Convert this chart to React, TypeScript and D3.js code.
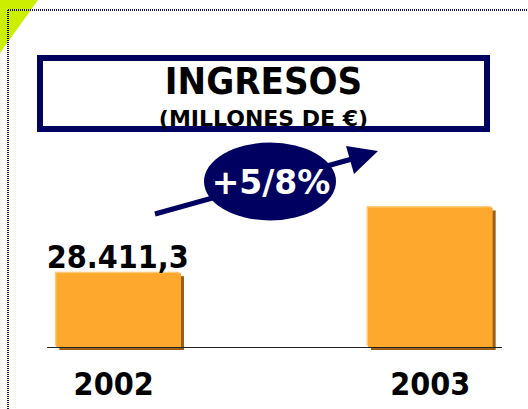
import React, { useEffect, useRef } from 'react';
import * as d3 from 'd3';

// data
const years = ['2002', '2003'];
const revenue = [28411.3, 30059.0];
const valueLabels = ['28.411,3', ''];
const growthLabel = '+5/8%';
const title = 'INGRESOS';
const subtitle = '(MILLONES DE €)';

const WIDTH = 528;
const HEIGHT = 409;
const FONT = "'DejaVu Sans Condensed', 'DejaVu Sans', Verdana, sans-serif";
const FONT_WIDE = "'DejaVu Sans', Verdana, sans-serif";

const App = () => {
  const svgRef = useRef<SVGSVGElement>(null);

  useEffect(() => {
    const svg = d3.select(svgRef.current);
    svg.selectAll('*').remove();

    const baseY = 347;

    const xScale = d3.scaleBand()
      .domain(years)
      .range([47, 502])
      .paddingInner(0.6)
      .paddingOuter(0.03);

    // axis doesn't start at zero in the original slide
    const yScale = d3.scaleLinear()
      .domain([26560, 30059])
      .range([baseY, 207.5]);

    // corner decoration
    svg.append('polygon')
      .attr('points', '0,0 38,0 0,53')
      .attr('fill', '#ccee00');

    // dotted frame
    svg.append('line')
      .attr('x1', 8).attr('y1', 10).attr('x2', WIDTH).attr('y2', 10)
      .attr('stroke', '#101070').attr('stroke-width', 2)
      .attr('stroke-dasharray', '1,1');
    svg.append('line')
      .attr('x1', 8).attr('y1', 10).attr('x2', 8).attr('y2', HEIGHT)
      .attr('stroke', '#101070').attr('stroke-width', 2)
      .attr('stroke-dasharray', '1,1');

    // title box
    svg.append('rect')
      .attr('x', 40).attr('y', 58)
      .attr('width', 447).attr('height', 71)
      .attr('fill', 'white')
      .attr('stroke', '#000060')
      .attr('stroke-width', 6);

    svg.append('text')
      .attr('x', 263.5).attr('y', 94)
      .attr('text-anchor', 'middle')
      .style('font-family', FONT)
      .style('font-weight', 'bold')
      .style('font-size', '38px')
      .style('fill', '#000')
      .text(title);

    svg.append('text')
      .attr('x', 263.5).attr('y', 126)
      .attr('text-anchor', 'middle')
      .style('font-family', FONT_WIDE)
      .style('font-weight', 'bold')
      .style('font-size', '22px')
      .style('fill', '#000')
      .text(subtitle);

    // bars: shadow, highlight, body
    const bars = svg.append('g');
    bars.selectAll('.shadow')
      .data(revenue)
      .enter().append('rect')
      .attr('class', 'shadow')
      .attr('x', (d, i) => xScale(years[i])! + 3)
      .attr('y', d => yScale(d) + 3)
      .attr('width', xScale.bandwidth())
      .attr('height', d => baseY - yScale(d))
      .attr('fill', '#9c5f14');

    bars.selectAll('.hl')
      .data(revenue)
      .enter().append('rect')
      .attr('class', 'hl')
      .attr('x', (d, i) => xScale(years[i])! - 1.5)
      .attr('y', d => yScale(d) - 1.5)
      .attr('width', xScale.bandwidth())
      .attr('height', d => baseY - yScale(d))
      .attr('fill', '#ffcb7a');

    bars.selectAll('.bar')
      .data(revenue)
      .enter().append('rect')
      .attr('class', 'bar')
      .attr('x', (d, i) => xScale(years[i])!)
      .attr('y', d => yScale(d))
      .attr('width', xScale.bandwidth())
      .attr('height', d => baseY - yScale(d))
      .attr('fill', '#ffa82e');

    // baseline
    svg.append('line')
      .attr('x1', 47).attr('x2', 502)
      .attr('y1', baseY + 0.5).attr('y2', baseY + 0.5)
      .attr('stroke', '#222').attr('stroke-width', 1);

    // value labels
    svg.selectAll('.value-label')
      .data(revenue)
      .enter().append('text')
      .attr('class', 'value-label')
      .attr('x', (d, i) => xScale(years[i])! + xScale.bandwidth() / 2 - 1)
      .attr('y', d => yScale(d) - 5)
      .attr('text-anchor', 'middle')
      .style('font-family', FONT)
      .style('font-weight', 'bold')
      .style('font-size', '32px')
      .style('fill', '#000')
      .text((d, i) => valueLabels[i]);

    // category labels
    svg.selectAll('.year-label')
      .data(years)
      .enter().append('text')
      .attr('class', 'year-label')
      .attr('x', (d, i) => xScale(d)! + xScale.bandwidth() / 2 - (i === 0 ? 5 : 0))
      .attr('y', 395)
      .attr('text-anchor', 'middle')
      .style('font-family', FONT)
      .style('font-weight', 'bold')
      .style('font-size', '32px')
      .style('fill', '#000')
      .text(d => d);

    // growth arrow
    svg.append('line')
      .attr('x1', 155).attr('y1', 214)
      .attr('x2', 352).attr('y2', 159)
      .attr('stroke', '#000060')
      .attr('stroke-width', 5);
    svg.append('polygon')
      .attr('points', '346,146 378,151 354,174')
      .attr('fill', '#000060');

    svg.append('ellipse')
      .attr('cx', 270).attr('cy', 181.5)
      .attr('rx', 66).attr('ry', 39)
      .attr('fill', '#000060');

    svg.append('text')
      .attr('x', 271).attr('y', 194)
      .attr('text-anchor', 'middle')
      .style('font-family', FONT_WIDE)
      .style('font-weight', 'bold')
      .style('font-size', '33px')
      .style('fill', '#fff')
      .text(growthLabel);
  }, []);

  return (
    <svg
      ref={svgRef}
      width={WIDTH}
      height={HEIGHT}
      style={{ position: 'absolute', left: 0, top: 0, background: '#fff' }}
    ></svg>
  );
};

export default App;
